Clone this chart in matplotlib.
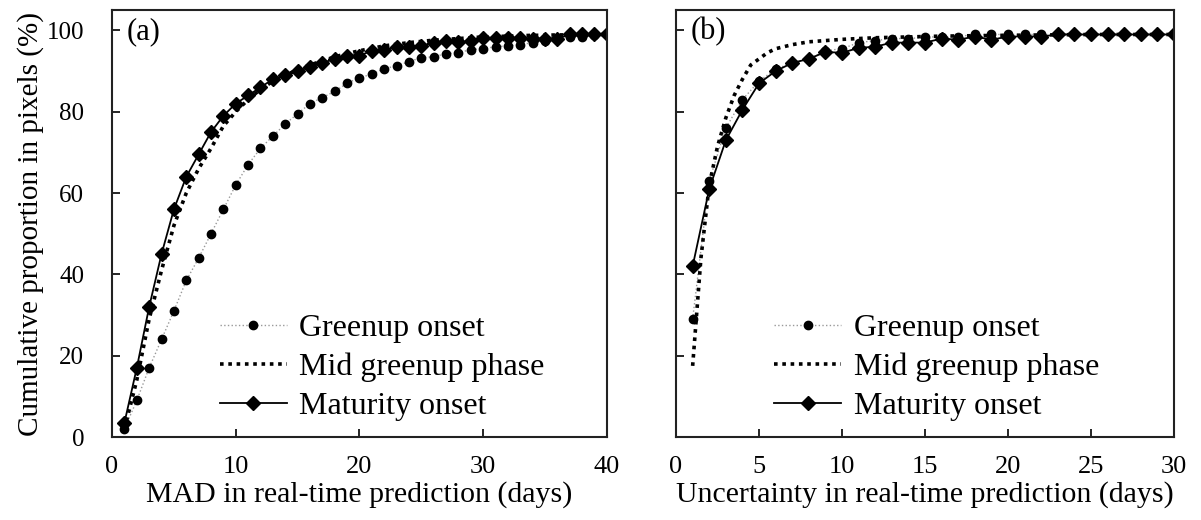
import numpy as np
import matplotlib
matplotlib.use('Agg')
import matplotlib.pyplot as plt

plt.rcParams['font.family'] = ['Liberation Serif', 'DejaVu Serif']

# panel (a): MAD in real-time prediction
days_a = list(range(1, 41))
green_a = [2, 9, 17, 24, 31, 38.5, 44, 50, 56, 62,
           67, 71, 74, 77, 79.5, 82, 83.5, 85, 87, 88.4,
           89.2, 90.6, 91.3, 92.3, 93.3, 93.5, 94.3, 94.5, 95.3, 95.5,
           96, 96.2, 96.5, 97, 97.5, 98, 98.3, 98.5, 98.8, 99]
mid_a = [2, 14, 29, 41, 52, 60, 66, 71, 76.5, 80,
         83, 85.5, 87.5, 89, 90.3, 91.5, 92.5, 93.5, 94.3, 95,
         95.6, 96.2, 96.6, 97, 97.3, 97.6, 97.8, 98, 98.2, 98.4,
         98.5, 98.6, 98.7, 98.8, 98.8, 98.9, 98.9, 99, 99, 99]
mat_a = [3.5, 17, 32, 45, 56, 64, 69.5, 75, 79, 82,
         84, 86, 88, 89, 90, 91, 92, 93, 93.8, 93.8,
         95, 95.2, 96, 96, 96.2, 97, 97.3, 97.2, 97.3, 98.2,
         98.2, 98.2, 98.2, 98, 98, 98, 99, 99, 99, 99]

# panel (b): uncertainty in real-time prediction
days_b = list(range(1, 31))
green_b = [29, 63, 76, 83, 87.5, 90.5, 92, 93, 95, 95.5,
           97, 97.5, 98, 98, 98.3, 98.5, 98.5, 99, 99, 99,
           99, 99, 99, 99, 99, 99, 99, 99, 99, 99]
mid_days_b = [1, 1.5, 2, 2.5, 3, 3.5, 4, 4.5, 5, 5.5, 6, 7, 8, 9, 10,
              11, 12, 14, 16, 18, 20, 25, 30]
mid_b = [17.5, 44, 62, 71.5, 78.5, 84, 88, 91.5, 93, 94.5, 95.5, 96.5, 97.2, 97.5, 97.8,
         98, 98.2, 98.4, 98.6, 98.7, 98.8, 99, 99]
mat_b = [42, 61, 73, 80.5, 87, 90, 92, 93, 94.7, 94.5,
         95.7, 96, 97, 97, 97, 98, 97.7, 98.5, 97.7, 98.5,
         98.5, 98.5, 99, 99, 99, 99, 99, 99, 99, 99]

labels = ['Greenup onset', 'Mid greenup phase', 'Maturity onset']

fig = plt.figure(figsize=(12.01, 5.2), dpi=100)
ax_a = fig.add_axes([0.0933, 0.1596, 0.412, 0.821])
ax_b = fig.add_axes([0.5629, 0.1596, 0.4147, 0.821])


def draw_panel(ax, xg, g, xm, m, xt, t, xlim, xticks, xlabel, tag, leg_x):
    ax.plot(xg, g, linestyle=':', color='#999999', linewidth=1.0,
            marker='o', markersize=6, markerfacecolor='black',
            markeredgecolor='black', label=labels[0])
    ax.plot(xm, m, linestyle=(0, (1, 1.3)), color='black', linewidth=2.6,
            label=labels[1])
    ax.plot(xt, t, linestyle='-', color='black', linewidth=1.3,
            marker='D', markersize=7.5, label=labels[2])
    ax.set_xlim(*xlim)
    ax.set_ylim(0, 105)
    ax.set_xticks(xticks)
    ax.set_yticks([0, 20, 40, 60, 80, 100])
    ax.tick_params(axis='x', direction='in', length=6, width=1.2,
                   labelsize=19, pad=14, top=False)
    ax.tick_params(axis='y', direction='in', length=6, width=1.2,
                   labelsize=18, pad=20, right=False)
    for s in ax.spines.values():
        s.set_linewidth(1.5)
        s.set_color('#222222')
    ax.set_xlabel(xlabel, fontsize=21.5, labelpad=2)
    ax.text(0.03, 0.95, tag, transform=ax.transAxes, fontsize=22,
            ha='left', va='center')
    ax.legend(loc='lower left', bbox_to_anchor=(leg_x, 0.0), frameon=False,
              fontsize=23, handlelength=2.1, handletextpad=0.4,
              labelspacing=0.3, borderpad=0.2, borderaxespad=0.3)


draw_panel(ax_a, days_a, green_a, days_a, mid_a, days_a, mat_a,
           (0, 40), [0, 10, 20, 30, 40],
           'MAD in real-time prediction (days)', '(a)', 0.185)
draw_panel(ax_b, days_b, green_b, mid_days_b, mid_b, days_b, mat_b,
           (0, 30), [0, 5, 10, 15, 20, 25, 30],
           'Uncertainty in real-time prediction (days)', '(b)', 0.165)

ax_a.set_ylabel('Cumulative proportion in pixels (%)', fontsize=21, labelpad=2)
ax_b.set_yticklabels([])

fig.savefig('out.png', dpi=100)
